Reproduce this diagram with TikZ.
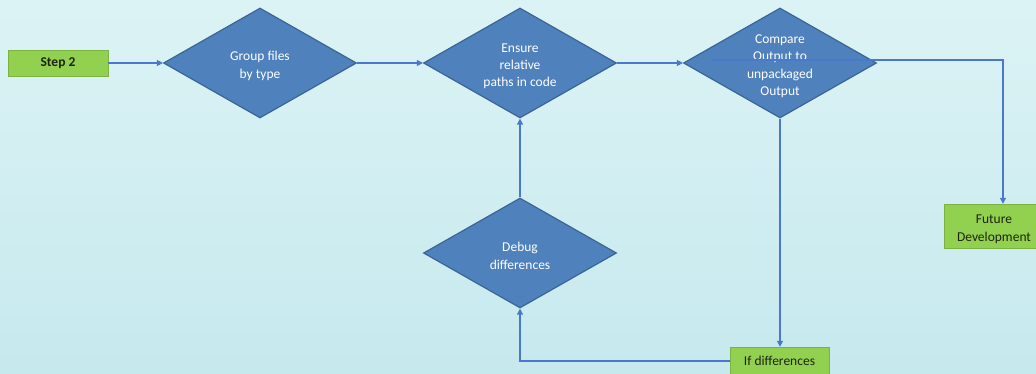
\documentclass[tikz,border=0pt]{standalone}
\usepackage{fontspec}
\setmainfont{Carlito}
\usetikzlibrary{shapes.geometric,arrows.meta}
\definecolor{bgtop}{HTML}{DCF3F5}
\definecolor{bgbot}{HTML}{C6E9EE}
\definecolor{dfill}{HTML}{4F81BD}
\definecolor{ddraw}{HTML}{3B6595}
\definecolor{gfill}{HTML}{92D050}
\definecolor{lcol}{HTML}{4A78CC}
\definecolor{tdark}{HTML}{1E2410}
\tikzset{
  decision/.style={diamond, aspect=1.76, inner sep=0pt, minimum width=193pt, minimum height=110pt,
    fill=dfill, draw=ddraw, line width=1.2pt, text=white, align=center,
    font=\fontsize{13.5}{17.2}\selectfont},
  gbox/.style={rectangle, fill=gfill, draw=gfill!85!black, line width=0.4pt, text=tdark, align=center, inner sep=0pt,
    font=\fontsize{13.5}{17.5}\selectfont},
  conn/.style={draw=lcol, line width=1.2pt},
  arr/.style={conn, -{Triangle[length=6pt,width=6pt]}}
}
\newcommand{\dnup}{\rule{0pt}{15pt}}
\begin{document}
\begin{tikzpicture}[x=1pt,y=-1pt]
\useasboundingbox (0,0) rectangle (1036,374);
\shade[top color=bgtop, bottom color=bgbot] (0,0) rectangle (1036,374);
\node[gbox, minimum width=100pt, minimum height=26pt, font=\fontsize{13.5}{17.5}\selectfont\bfseries] (step) at (58,63) {Step 2};
\node[decision] (group) at (260,63) {\dnup Group files\\by type};
\node[decision] (ensure) at (520,63) {\dnup Ensure\\relative\\paths in code};
\node[decision] (compare) at (780,63) {\dnup Compare\\Output to\\unpackaged\\Output};
\node[decision] (debug) at (520,253) {\dnup Debug\\differences};
\node[gbox, minimum width=100pt, minimum height=44pt] (future) at (994,226) {\dnup Future\\Development};
\node[gbox, minimum width=99pt, minimum height=28pt] (ifd) at (779.5,361) {If differences};
\coordinate (cstart) at (712,60);
\coordinate (cturn) at (1003,60);
\coordinate (dturn) at (520,361);
\draw[arr] (step.east) -- (group.west);
\draw[arr] (group.east) -- (ensure.west);
\draw[arr] (ensure.east) -- (compare.west);
\draw[arr] (cstart) -- (cturn) -- (cturn |- future.north);
\draw[arr] (compare.south) -- (compare.south |- ifd.north);
\draw[arr] (ifd.west) -- (dturn) -- (debug.south);
\draw[arr] (debug.north) -- (ensure.south);
\end{tikzpicture}
\end{document}
